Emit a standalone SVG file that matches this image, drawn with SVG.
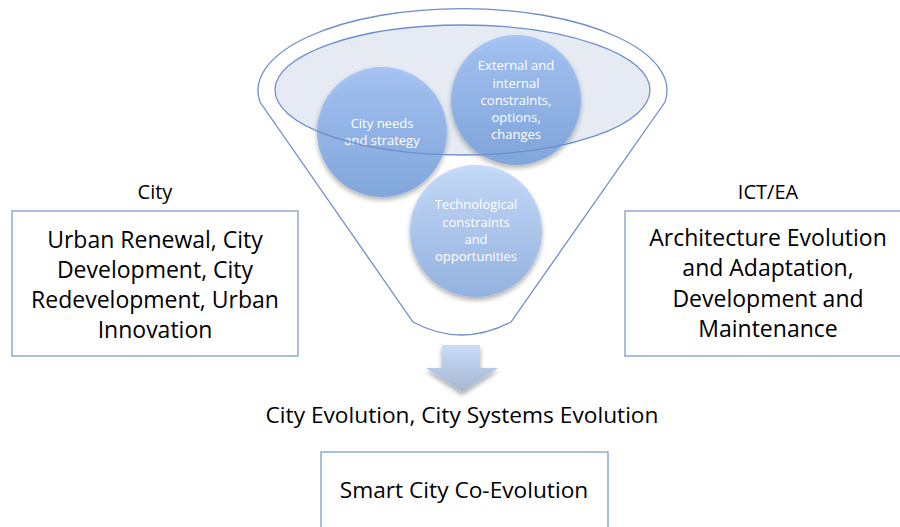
<svg xmlns="http://www.w3.org/2000/svg" width="900" height="527" viewBox="0 0 900 527">
  <defs>
    <linearGradient id="gCircle" x1="0" y1="0" x2="0" y2="1">
      <stop offset="0" stop-color="#9fc0f6"/>
      <stop offset="1" stop-color="#749fdb"/>
    </linearGradient>
    <linearGradient id="gCircleLight" x1="0" y1="0" x2="0" y2="1">
      <stop offset="0" stop-color="#c2d8fa"/>
      <stop offset="1" stop-color="#8dafe0"/>
    </linearGradient>
    <linearGradient id="gArrow" x1="0" y1="0" x2="0" y2="1">
      <stop offset="0" stop-color="#cadcf8"/>
      <stop offset="1" stop-color="#a6b6d0"/>
    </linearGradient>
    <filter id="shadow" x="-20%" y="-20%" width="140%" height="150%">
      <feGaussianBlur in="SourceAlpha" stdDeviation="2.5"/>
      <feOffset dx="0" dy="2.5" result="b"/>
      <feComponentTransfer><feFuncA type="linear" slope="0.35"/></feComponentTransfer>
      <feMerge><feMergeNode/><feMergeNode in="SourceGraphic"/></feMerge>
    </filter>
    <style>
      .outline { fill: none; stroke: #6f8fca; stroke-width: 1.3; }
      .box { fill: #ffffff; stroke: #7d9bcf; stroke-width: 1.3; }
      .circ { filter: url(#shadow); }
      .ct { font-family: "Open Sans", "DejaVu Sans", sans-serif; font-size: 13px; fill: #ffffff; text-anchor: middle; }
      .bt { font-family: "Open Sans", "DejaVu Sans", sans-serif; font-size: 23px; fill: #000000; text-anchor: middle; }
      .et { font-family: "Open Sans", "DejaVu Sans", sans-serif; font-size: 22.7px; fill: #000000; text-anchor: middle; }
      .lt { font-family: "Open Sans", "DejaVu Sans", sans-serif; font-size: 20px; fill: #000000; text-anchor: middle; }
    </style>
  </defs>

  <g id="funnel">
    <path class="outline" d="M 260,102 A 204.5 82 0 1 1 665,102 L 511,322 Q 461,348 413,322 Z"/>
    <ellipse cx="462.5" cy="90" rx="187.5" ry="65" fill="#e5eaf3"/>
  </g>

  <g id="circle-city-needs">
    <circle class="circ" cx="382" cy="132" r="65" fill="url(#gCircle)" fill-opacity="0.85"/>
    <text class="ct" x="382" y="128">City needs</text>
    <text class="ct" x="382" y="145">and strategy</text>
  </g>

  <g id="circle-external">
    <circle class="circ" cx="516" cy="100" r="65" fill="url(#gCircle)" fill-opacity="0.85"/>
    <text class="ct" x="516" y="70">External and</text>
    <text class="ct" x="516" y="87.5">internal</text>
    <text class="ct" x="516" y="105">constraints,</text>
    <text class="ct" x="516" y="122">options,</text>
    <text class="ct" x="516" y="139">changes</text>
  </g>

  <g id="circle-technological">
    <circle class="circ" cx="476" cy="231" r="66" fill="url(#gCircleLight)" fill-opacity="0.9"/>
    <text class="ct" x="476" y="209">Technological</text>
    <text class="ct" x="476" y="226.5">constraints</text>
    <text class="ct" x="476" y="244">and</text>
    <text class="ct" x="476" y="261">opportunities</text>
  </g>

  <g id="funnel-rim">
    <ellipse class="outline" cx="462.5" cy="90" rx="187.5" ry="65"/>
  </g>

  <g id="city">
    <text class="lt" x="155" y="199">City</text>
    <rect class="box" x="12" y="211" width="286" height="145"/>
    <text class="bt" x="155" y="248">Urban Renewal, City</text>
    <text class="bt" x="155" y="278">Development, City</text>
    <text class="bt" x="155" y="308">Redevelopment, Urban</text>
    <text class="bt" x="155" y="338">Innovation</text>
  </g>

  <g id="ict-ea">
    <text class="lt" x="768" y="199">ICT/EA</text>
    <rect class="box" x="625" y="211" width="285" height="145"/>
    <text class="bt" x="768" y="246">Architecture Evolution</text>
    <text class="bt" x="768" y="276">and Adaptation,</text>
    <text class="bt" x="768" y="307">Development and</text>
    <text class="bt" x="768" y="337">Maintenance</text>
  </g>

  <g id="connectors">
    <path class="circ" d="M 442,345 L 480,345 L 480,368 L 498,368 L 462,392 L 426,368 L 442,368 Z" fill="url(#gArrow)"/>
  </g>

  <g id="evolution">
    <text class="et" x="462" y="423">City Evolution, City Systems Evolution</text>
  </g>

  <g id="smart-city">
    <rect class="box" x="321" y="452" width="287" height="90"/>
    <text class="et" x="464" y="498">Smart City Co-Evolution</text>
  </g>
</svg>
